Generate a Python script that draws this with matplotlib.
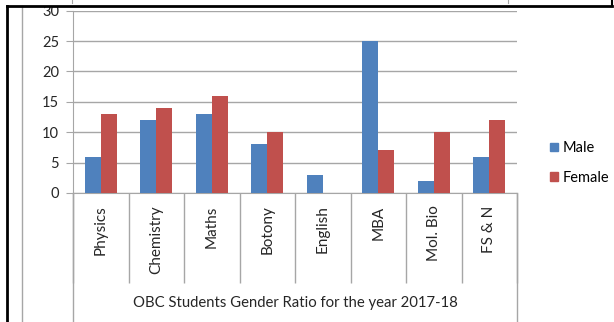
import matplotlib
matplotlib.use("Agg")
import matplotlib.pyplot as plt
from matplotlib.patches import Patch, Rectangle
from matplotlib.lines import Line2D
import numpy as np

plt.rcParams['font.family'] = ['Lato', 'DejaVu Sans']

subjects = ['Physics', 'Chemistry', 'Maths', 'Botony', 'English', 'MBA', 'Mol. Bio', 'FS & N']
male = [6, 12, 13, 8, 3, 25, 2, 6]
female = [13, 14, 16, 10, 0, 7, 10, 12]
yticks = [0, 5, 10, 15, 20, 25, 30]
xlabel = 'OBC Students Gender Ratio for the year 2017-18'

blue = '#4F81BD'
red = '#C0504D'
grid = '#a6a6a6'
text_col = '#262626'

W, H = 614, 322
fig = plt.figure(figsize=(W / 100, H / 100), dpi=100)
fig.patch.set_facecolor('white')

# plot area in pixel terms
x0, x1, y0, y1 = 73, 517, 193, 10.7
ax = fig.add_axes([x0 / W, 1 - y0 / H, (x1 - x0) / W, (y0 - y1) / H])

x = np.arange(len(subjects))
bw = 0.288
ax.bar(x - bw / 2, male, bw, color=blue, label='Male', zorder=3)
ax.bar(x + bw / 2, female, bw, color=red, label='Female', zorder=3)

ax.set_xlim(-0.5, len(subjects) - 0.5)
ax.set_ylim(0, 30)
ax.set_yticks(yticks)
ax.yaxis.grid(True, color=grid, linewidth=1, zorder=0)
ax.set_axisbelow(True)
for s in ['top', 'right']:
    ax.spines[s].set_visible(False)
ax.spines['left'].set_color(grid)
ax.spines['bottom'].set_color(grid)
ax.tick_params(axis='y', length=5, color=grid, labelsize=10.5, labelcolor=text_col, pad=5)

# category labels on minor positions, separators as major ticks
ax.set_xticks(np.arange(len(subjects) + 1) - 0.5)
ax.set_xticklabels([])
ax.tick_params(axis='x', which='major', length=65, color=grid, width=1)
ax.set_xticks(x, minor=True)
ax.set_xticklabels(subjects, minor=True, rotation=90, fontsize=11, color=text_col)
ax.tick_params(axis='x', which='minor', length=0, pad=9)

# outer lines of the category box run to the bottom
for xb in (-0.5, len(subjects) - 0.5):
    ax.plot([xb, xb], [0, -1], color=grid, lw=1, clip_on=False,
            transform=ax.get_xaxis_transform())

ax.text((len(subjects) - 1) / 2, -(303 - y0) / (y0 - y1), xlabel,
        transform=ax.get_xaxis_transform(), ha='center', va='center',
        fontsize=10.7, color=text_col)

handles = [Patch(color=blue), Patch(color=red)]
fig.legend(handles, ['Male', 'Female'], loc='center left',
           bbox_to_anchor=(543 / W, 1 - 163 / H), frameon=False,
           fontsize=10.5, handlelength=0.5, handleheight=0.5,
           handletextpad=0.35, labelspacing=1.05, borderpad=0)

# page/table borders around the clipped chart
fig.add_artist(Rectangle((0, 1 - 6 / H), 1, 6 / H, transform=fig.transFigure,
                         color='white', zorder=10))
fig.add_artist(Line2D([22 / W, 22 / W], [0, 1 - 6 / H], transform=fig.transFigure,
                      color=grid, lw=1, zorder=11))
for gx in (72, 508):
    fig.add_artist(Line2D([gx / W, gx / W], [1, 1 - 3 / H], transform=fig.transFigure,
                          color=grid, lw=0.8, zorder=11))
fig.add_artist(Line2D([7 / W, 612 / W], [1 - 6 / H, 1 - 6 / H], transform=fig.transFigure,
                      color='black', lw=2, zorder=12))
fig.add_artist(Line2D([7 / W, 7 / W], [0, 1 - 6 / H], transform=fig.transFigure,
                      color='black', lw=2, zorder=12))
fig.add_artist(Line2D([612 / W, 612 / W], [1, 1 - 6 / H], transform=fig.transFigure,
                      color='black', lw=1.5, zorder=12))

fig.savefig('out.png', dpi=100)
